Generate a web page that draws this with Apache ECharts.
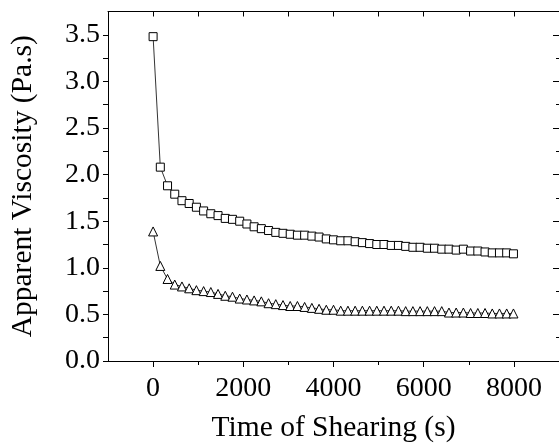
<!DOCTYPE html>
<html>
<head>
<meta charset="utf-8">
<script src="https://cdn.jsdelivr.net/npm/echarts@6/dist/echarts.min.js"></script>
<style>html,body{margin:0;padding:0;background:#fff}#c{width:559px;height:448px}</style>
</head>
<body>
<div id="c"></div>
<script>
var times = [0,160,320,480,640,800,960,1120,1280,1440,1600,1760,1920,2080,2240,2400,2560,2720,2880,3040,3200,3360,3520,3680,3840,4000,4160,4320,4480,4640,4800,4960,5120,5280,5440,5600,5760,5920,6080,6240,6400,6560,6720,6880,7040,7200,7360,7520,7680,7840,7990];
var squares = [3.48,2.08,1.88,1.79,1.72,1.69,1.65,1.61,1.58,1.56,1.53,1.52,1.50,1.47,1.44,1.42,1.40,1.38,1.37,1.36,1.35,1.35,1.34,1.33,1.31,1.30,1.29,1.29,1.28,1.27,1.26,1.25,1.25,1.24,1.24,1.23,1.22,1.22,1.21,1.21,1.20,1.20,1.19,1.20,1.18,1.18,1.17,1.16,1.16,1.16,1.15];
var triangles = [1.39,1.02,0.88,0.82,0.80,0.78,0.76,0.75,0.74,0.72,0.70,0.69,0.67,0.66,0.65,0.64,0.62,0.61,0.60,0.59,0.59,0.58,0.57,0.56,0.55,0.55,0.54,0.54,0.54,0.54,0.54,0.54,0.54,0.54,0.54,0.535,0.535,0.535,0.535,0.535,0.535,0.52,0.52,0.52,0.515,0.515,0.515,0.51,0.51,0.51,0.51];
var xMajor = [0,2000,4000,6000,8000];
var xMinor = [1000,3000,5000,7000];
var xTop = [0,1000,2000,3000,4000,5000,6000,7000,8000];
var yMajor = [0,0.5,1.0,1.5,2.0,2.5,3.0,3.5];
var yMinor = [0.25,0.75,1.25,1.75,2.25,2.75,3.25];
var yAll = [0,0.25,0.5,0.75,1.0,1.25,1.5,1.75,2.0,2.25,2.5,2.75,3.0,3.25,3.5];
var xTitle = 'Time of Shearing (s)';
var yTitle = 'Apparent Viscosity (Pa.s)';

var FONT = 'Liberation Serif';
var BLACK = '#000';
function pairs(xs, ys){ return xs.map(function(x,i){ return [x, ys[i]]; }); }
var lineStyle = {color: BLACK, width: 1};
function xBase(extra){
  var o = {type:'value', min:-1000, max:9000, gridIndex:0, splitLine:{show:false}, minorTick:{show:false},
    axisLine:{show:false, onZero:false, lineStyle: lineStyle}, axisTick:{show:false}, axisLabel:{show:false}};
  for (var k in extra) o[k] = extra[k];
  return o;
}
function yBase(extra){
  var o = {type:'value', min:0, max:3.75, gridIndex:0, splitLine:{show:false}, minorTick:{show:false},
    axisLine:{show:false, onZero:false, lineStyle: lineStyle}, axisTick:{show:false}, axisLabel:{show:false}};
  for (var k in extra) o[k] = extra[k];
  return o;
}
var chart = echarts.init(document.getElementById('c'), null, {renderer:'canvas'});
chart.setOption({
  animation: false,
  backgroundColor: '#fff',
  grid: {left:108, top:11.5, width:452, height:352.5, containLabel:false},
  xAxis: [
    xBase({position:'bottom', axisLine:{show:true, onZero:false, lineStyle:lineStyle},
      axisTick:{show:true, inside:false, length:6, lineStyle:lineStyle, customValues:xMajor},
      axisLabel:{show:true, customValues:xMajor, margin:14, color:BLACK, fontFamily:FONT, fontSize:28,
        formatter:function(v){ return String(Math.round(v)); }},
      name:xTitle, nameLocation:'middle', nameGap:52, nameTextStyle:{color:BLACK, fontFamily:FONT, fontSize:29.5}}),
    xBase({position:'bottom', axisLine:{show:false, onZero:false},
      axisTick:{show:true, inside:false, length:4, lineStyle:lineStyle, customValues:xMinor}}),
    xBase({position:'top', axisLine:{show:true, onZero:false, lineStyle:lineStyle},
      axisTick:{show:true, inside:true, length:5, lineStyle:lineStyle, customValues:xTop}})
  ],
  yAxis: [
    yBase({position:'left', axisLine:{show:true, onZero:false, lineStyle:lineStyle},
      axisTick:{show:true, inside:false, length:5, lineStyle:lineStyle, customValues:yAll},
      axisLabel:{show:true, customValues:yMajor, margin:8, color:BLACK, fontFamily:FONT, fontSize:28,
        formatter:function(v){ return Number(v).toFixed(1); }},
      name:yTitle, nameLocation:'middle', nameGap:70, nameRotate:90,
      nameTextStyle:{color:BLACK, fontFamily:FONT, fontSize:29.5}}),
    yBase({position:'right', axisLine:{show:true, onZero:false, lineStyle:lineStyle},
      axisTick:{show:true, inside:true, length:6, lineStyle:lineStyle, customValues:yMajor}}),
    yBase({position:'right', axisLine:{show:false, onZero:false},
      axisTick:{show:true, inside:true, length:3, lineStyle:lineStyle, customValues:yMinor}})
  ],
  series: [
    {type:'line', xAxisIndex:0, yAxisIndex:0, data:pairs(times, squares), symbol:'rect', symbolSize:8,
      lineStyle:{color:BLACK, width:0.8}, itemStyle:{color:'#fff', borderColor:BLACK, borderWidth:1}, z:3},
    {type:'line', xAxisIndex:0, yAxisIndex:0, data:pairs(times, triangles), symbol:'triangle', symbolSize:[9,9],
      lineStyle:{color:BLACK, width:0.8}, itemStyle:{color:'#fff', borderColor:BLACK, borderWidth:1}, z:3}
  ]
});
</script>
</body>
</html>
